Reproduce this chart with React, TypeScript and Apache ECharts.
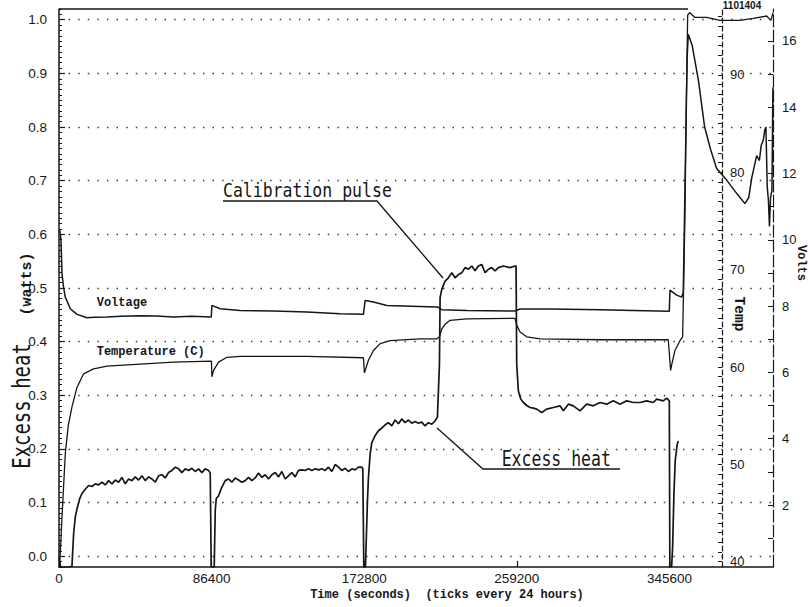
import React, { useEffect, useRef } from "react";
import * as echarts from "echarts";

// ---- tick labels ----
const timeTicks = [0, 86400, 172800, 259200, 345600];
const heatTicks = [0, 0.1, 0.2, 0.3, 0.4, 0.5, 0.6, 0.7, 0.8, 0.9, 1.0];
const tempTicks = [40, 50, 60, 70, 80, 90];
const voltTicks = [2, 4, 6, 8, 10, 12, 14, 16];

// ---- series values: [time (s), value] ----
// Excess heat, watts (left axis)
const excessHeat: [number, number][] = [
  [0, 0.0], [900, -0.02], [6400, -0.02], [7340, -0.018], [8280, 0.042], [9220, 0.073], [10170, 0.088],
  [11680, 0.107], [13000, 0.117], [14880, 0.125], [16770, 0.132], [18650, 0.13], [20540, 0.135],
  [22430, 0.133], [24310, 0.138], [26200, 0.133], [28080, 0.141], [29970, 0.135], [31860, 0.142],
  [33740, 0.138], [35630, 0.147], [37510, 0.135], [39400, 0.144], [41290, 0.141], [43170, 0.148],
  [45060, 0.142], [46940, 0.15], [48830, 0.141], [50720, 0.148], [52600, 0.144], [54490, 0.138],
  [56370, 0.15], [58260, 0.152], [60150, 0.146], [62030, 0.156], [63920, 0.16], [65800, 0.166],
  [67690, 0.163], [69580, 0.156], [71460, 0.163], [73350, 0.16], [75230, 0.164], [77120, 0.158],
  [79010, 0.163], [80890, 0.156], [82780, 0.163], [84660, 0.16], [85610, 0.155], [86170, -0.02],
  [87870, -0.02], [88440, 0.085], [89000, 0.107], [90320, 0.113], [92210, 0.129], [94100, 0.141],
  [95980, 0.144], [97870, 0.138], [99750, 0.146], [101640, 0.142], [103520, 0.138], [105410, 0.141],
  [107290, 0.147], [109180, 0.141], [111070, 0.146], [112950, 0.155], [114840, 0.147], [116720, 0.152],
  [118610, 0.144], [120500, 0.152], [122380, 0.156], [124270, 0.148], [126150, 0.158], [128040, 0.144],
  [129930, 0.15], [131810, 0.156], [133700, 0.148], [135580, 0.16], [137470, 0.161], [139360, 0.16],
  [141240, 0.163], [143130, 0.16], [145010, 0.163], [146900, 0.161], [148790, 0.163], [150670, 0.16],
  [152560, 0.166], [154440, 0.158], [156330, 0.171], [158220, 0.166], [160100, 0.16], [161990, 0.164],
  [163870, 0.158], [165760, 0.163], [167650, 0.161], [169530, 0.166], [171420, 0.166], [171980, 0.163],
  [172550, -0.02], [173490, -0.02], [174620, 0.104], [175190, 0.147], [176140, 0.191], [177080, 0.212],
  [178970, 0.225], [180850, 0.234], [182740, 0.239], [184620, 0.245], [186500, 0.249], [188390, 0.243],
  [190280, 0.254], [192160, 0.247], [194050, 0.256], [195930, 0.249], [197820, 0.254], [199710, 0.248],
  [201590, 0.251], [203480, 0.248], [205300, 0.25], [207250, 0.243], [209120, 0.249], [211040, 0.246],
  [212910, 0.2525], [214220, 0.259], [215370, 0.358], [215740, 0.482], [216680, 0.4975], [218570, 0.513],
  [220450, 0.519], [222340, 0.5285], [224220, 0.519], [226110, 0.525], [228000, 0.5285], [229890, 0.538],
  [231770, 0.535], [233660, 0.541], [235540, 0.532], [237430, 0.541], [239320, 0.544], [241200, 0.5285],
  [243090, 0.535], [244970, 0.538], [246860, 0.532], [248740, 0.538], [251570, 0.541], [255350, 0.538],
  [258170, 0.541], [258740, 0.541], [259120, 0.358], [260060, 0.308], [261380, 0.293], [262890, 0.2866],
  [264800, 0.281], [266660, 0.2773], [268500, 0.276], [270430, 0.2742], [273260, 0.268], [276090, 0.2742],
  [279860, 0.2773], [283640, 0.2804], [285520, 0.2711], [288350, 0.2835], [291180, 0.2804], [294950, 0.2711],
  [298720, 0.2835], [302500, 0.2804], [306270, 0.2866], [310040, 0.2835], [313810, 0.2897], [317580, 0.2835],
  [321360, 0.2897], [325130, 0.2866], [328900, 0.2866], [332670, 0.2897], [336440, 0.2866], [338330, 0.2928],
  [342100, 0.2897], [343990, 0.2947], [345500, 0.2897], [345800, -0.02], [346800, -0.02], [347370, 0.017],
  [348110, 0.116], [348850, 0.178], [349980, 0.209], [350550, 0.215],
];

// Cell temperature, deg C (Temp axis)
const temperature: [number, number][] = [
  [300, 39.8], [735, 40.9], [1700, 44.6], [3560, 51.1], [5260, 54.0], [7340, 55.9], [10180, 57.9],
  [13920, 59.3], [19580, 59.8], [27160, 60.1], [46000, 60.3], [64840, 60.5], [86300, 60.6], [86560, 59.0],
  [87500, 59.65], [90330, 60.5], [95050, 61.0], [102580, 61.1], [140320, 61.1], [172350, 60.95],
  [172900, 59.4], [175170, 60.7], [178000, 61.7], [181810, 62.4], [187450, 62.7], [204440, 62.9],
  [213870, 62.9], [215370, 63.1], [216700, 63.9], [218570, 64.4], [221400, 64.8], [230830, 64.95],
  [258170, 65.0], [259130, 64.3], [261010, 63.6], [264790, 63.1], [272330, 62.9], [306270, 62.8],
  [344910, 62.8], [346250, 59.65], [346810, 60.2], [348700, 61.7], [351520, 62.7], [353040, 63.1],
  [354300, 75.0], [355200, 88.0], [355900, 96.15], [357000, 96.4], [360000, 95.9], [366640, 95.9],
  [374170, 95.6], [385470, 95.6], [393010, 95.8], [400590, 96.05], [403020, 95.6], [404200, 96.4],
];

// Cell voltage, volts (Volts axis)
const voltage: [number, number][] = [
  [400, 10.3], [1130, 9.98], [1700, 8.98], [2500, 8.6], [3560, 8.27], [6390, 7.92], [10180, 7.75],
  [15840, 7.65], [20000, 7.66], [27160, 7.67], [35000, 7.69], [46000, 7.71], [55000, 7.7], [64840, 7.67],
  [75000, 7.69], [86200, 7.67], [86560, 8.02], [91260, 7.92], [102580, 7.87], [121420, 7.85],
  [140320, 7.82], [159160, 7.77], [172350, 7.75], [173300, 8.17], [178000, 8.12], [185580, 8.02],
  [204440, 7.99], [214500, 7.97], [216700, 7.89], [230830, 7.87], [258170, 7.85], [261000, 7.91],
  [277980, 7.91], [306270, 7.89], [325110, 7.87], [345480, 7.84], [345870, 8.48], [349640, 8.33],
  [352480, 8.27], [353400, 8.4], [354500, 12.0], [355600, 15.5], [356220, 16.2], [358500, 15.85],
  [362000, 14.8], [365500, 13.4], [369000, 12.7], [372300, 12.15], [377960, 11.8], [383620, 11.4],
  [388320, 11.09], [390500, 11.28], [392110, 11.85], [394940, 12.54], [396500, 12.39], [397500, 12.84],
  [398670, 13.0], [399500, 13.3], [400200, 13.4], [400940, 11.59], [401600, 11.19], [402200, 10.4],
  [402800, 11.28], [403600, 11.49], [404150, 14.6],
];

const ink = "#161616";
const minorHeatTicks = Array.from({ length: 105 }, (_, i) => Math.round(-2 + i) / 100);
const tempMinorTicks = Array.from({ length: 57 }, (_, i) => 40 + i);
const voltMinorTicks = Array.from({ length: 16 }, (_, i) => 1 + i);

const sansLabel = { fontFamily: "Liberation Sans", color: ink };

export default function App() {
  const ref = useRef<HTMLDivElement>(null);
  useEffect(() => {
    const chart = echarts.init(ref.current as HTMLDivElement, null, { renderer: "svg" });
    const option: any = {
      animation: false,
      backgroundColor: "#ffffff",
      grid: { left: 59, right: 37, top: 9, bottom: 40 },
      xAxis: [
        {
          type: "value", min: 0, max: 404200, position: "bottom",
          axisLine: { show: true, onZero: false, lineStyle: { color: ink, width: 1.5 } },
          axisTick: { show: true, inside: true, length: 6, customValues: timeTicks, lineStyle: { color: ink, width: 1.2 } },
          axisLabel: { ...sansLabel, customValues: timeTicks, fontSize: 13.5, margin: 4, formatter: (v: number) => String(v) },
          splitLine: { show: false },
        },
      ],
      yAxis: [
        {
          type: "value", min: -0.02, max: 1.02, position: "left",
          axisLine: { show: true, onZero: false, lineStyle: { color: ink, width: 1.5 } },
          axisTick: { show: true, inside: true, length: 6, customValues: heatTicks, lineStyle: { color: ink, width: 1.2 } },
          axisLabel: { ...sansLabel, customValues: heatTicks, fontSize: 13.5, margin: 12, formatter: (v: number) => v.toFixed(1) },
          splitLine: { show: false },
        },
        {
          type: "value", min: 39.46, max: 96.77, position: "right", offset: -51,
          axisLine: { show: true, onZero: false, lineStyle: { color: ink, width: 1.2, type: [5, 3] } },
          axisTick: { show: true, inside: true, length: 4, customValues: tempMinorTicks, lineStyle: { color: ink, width: 1 } },
          axisLabel: { ...sansLabel, customValues: tempTicks, fontSize: 13, margin: 8 },
          splitLine: { show: false },
        },
        {
          type: "value", min: 0.13, max: 16.96, position: "right", offset: 0,
          axisLine: { show: true, onZero: false, lineStyle: { color: ink, width: 1.2, type: [12, 3] } },
          axisTick: { show: true, inside: true, length: 5, customValues: voltMinorTicks, lineStyle: { color: ink, width: 1 } },
          axisLabel: { ...sansLabel, customValues: voltTicks, fontSize: 13, margin: 9 },
          splitLine: { show: false },
        },
        {
          type: "value", min: -0.02, max: 1.02, position: "left",
          axisLine: { show: false, onZero: false },
          axisTick: { show: true, inside: true, length: 3, customValues: minorHeatTicks, lineStyle: { color: ink, width: 1 } },
          axisLabel: { show: false },
          splitLine: { show: false },
        },
      ],
      series: [
        {
          name: "Excess heat", type: "line", data: excessHeat, xAxisIndex: 0, yAxisIndex: 0,
          symbol: "none", silent: true, z: 4,
          lineStyle: { color: ink, width: 1.7 },
          markLine: {
            silent: true, symbol: ["none", "none"], label: { show: false },
            lineStyle: { color: "#333", width: 1.4, type: [1.4, 8.2] },
            emphasis: { disabled: true },
            data: heatTicks.map((v) => ({ yAxis: v })),
          },
        },
        {
          name: "Temperature", type: "line", data: temperature, xAxisIndex: 0, yAxisIndex: 1,
          symbol: "none", silent: true, z: 3,
          lineStyle: { color: ink, width: 1.3 },
        },
        {
          name: "Voltage", type: "line", data: voltage, xAxisIndex: 0, yAxisIndex: 2,
          symbol: "none", silent: true, z: 3,
          lineStyle: { color: ink, width: 1.5 },
        },
      ],
      graphic: [
        { type: "line", shape: { x1: 59, y1: 9, x2: 688, y2: 9 }, style: { stroke: ink, lineWidth: 1.5 } },
        { type: "polyline", shape: { points: [[223, 201], [377, 201], [443, 278]] }, style: { stroke: ink, lineWidth: 1.3, fill: null } },
        { type: "polyline", shape: { points: [[437, 428], [483, 469], [620, 469]] }, style: { stroke: ink, lineWidth: 1.3, fill: null } },
        {
          type: "text", x: 223, y: 189.7, scaleY: 1.2,
          style: { text: "Calibration pulse", fontFamily: "DejaVu Sans Mono", fontSize: 16.5, fill: ink, textAlign: "left", textVerticalAlign: "middle" },
        },
        {
          type: "text", x: 501.7, y: 458.7, scaleY: 1.25,
          style: { text: "Excess heat", fontFamily: "DejaVu Sans Mono", fontSize: 16.5, fill: ink, textAlign: "left", textVerticalAlign: "middle" },
        },
        {
          type: "text", x: 96.7, y: 302.5,
          style: { text: "Voltage", fontFamily: "Liberation Mono", fontWeight: "bold", fontSize: 12, fill: ink, textAlign: "left", textVerticalAlign: "middle" },
        },
        {
          type: "text", x: 96.7, y: 352,
          style: { text: "Temperature (C)", fontFamily: "Liberation Mono", fontWeight: "bold", fontSize: 12, fill: ink, textAlign: "left", textVerticalAlign: "middle" },
        },
        {
          type: "text", x: 447, y: 595,
          style: { text: "Time (seconds)  (ticks every 24 hours)", fontFamily: "Liberation Mono", fontWeight: "bold", fontSize: 12, fill: ink, textAlign: "center", textVerticalAlign: "middle" },
        },
        {
          type: "text", x: 739, y: 314, rotation: -Math.PI / 2,
          style: { text: "Temp", fontFamily: "Liberation Mono", fontWeight: "bold", fontSize: 14.5, fill: ink, textAlign: "center", textVerticalAlign: "middle" },
        },
        {
          type: "text", x: 801, y: 263, rotation: -Math.PI / 2,
          style: { text: "Volts", fontFamily: "Liberation Mono", fontWeight: "bold", fontSize: 12, fill: ink, textAlign: "center", textVerticalAlign: "middle" },
        },
        {
          type: "text", x: 22, y: 406, rotation: Math.PI / 2, scaleY: 1.3,
          style: { text: "Excess heat", fontFamily: "DejaVu Sans Mono", fontSize: 19, fill: ink, textAlign: "center", textVerticalAlign: "middle" },
        },
        {
          type: "text", x: 27, y: 284, rotation: Math.PI / 2,
          style: { text: "(watts)", fontFamily: "Liberation Mono", fontWeight: "bold", fontSize: 15, fill: ink, textAlign: "center", textVerticalAlign: "middle" },
        },
        {
          type: "text", x: 742, y: 0,
          style: { text: "1101404", fontFamily: "Liberation Sans", fontWeight: "bold", fontSize: 10, fill: ink, textAlign: "center", textVerticalAlign: "top" },
        },
      ],
    };
    chart.setOption(option);
    return () => chart.dispose();
  }, []);
  return (
    <div
      ref={ref}
      style={{ position: "fixed", left: 0, top: 0, width: 810, height: 607, background: "#ffffff" }}
    />
  );
}
